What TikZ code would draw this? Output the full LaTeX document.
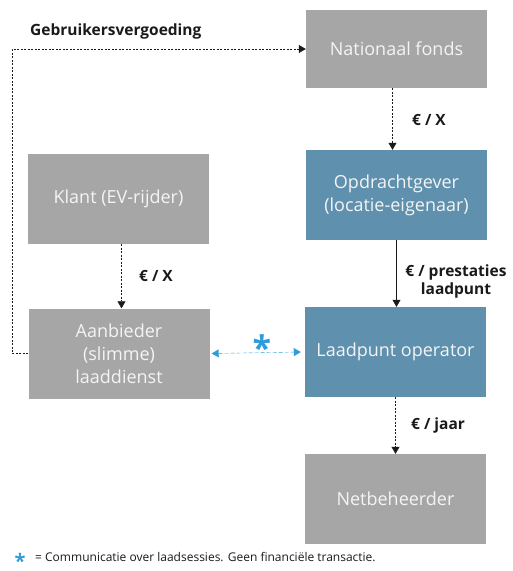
\documentclass[tikz,border=0pt]{standalone}
\usepackage{fontspec}
\setmainfont{Open Sans}
\usepackage{tikz}
\usetikzlibrary{calc,arrows.meta,positioning}
\definecolor{boxGray}{HTML}{A6A6A6}
\definecolor{boxBlue}{HTML}{5F91AE}
\definecolor{boxText}{HTML}{F4F4F4}
\definecolor{comBlue}{HTML}{2D9CDB}
\definecolor{labelText}{HTML}{1A1A1A}
\tikzset{
myGrayBox/.style={
	rectangle,fill=boxGray,draw=none,
	inner sep=0pt,minimum width=181pt,minimum height=90pt,
	text=boxText,align=center,font=\fontsize{18}{23}\selectfont
}
, myBlueBox/.style={
	myGrayBox,fill=boxBlue
}
% links
, myMoney/.style={-{Triangle[width=8pt,length=7pt]},color=labelText,line width=0.5pt,
	dash pattern=on 2pt off 1.5pt}
, myMoneySolid/.style={-{Triangle[width=8pt,length=7pt]},color=labelText,thin}
, myCom/.style={{Triangle[width=8pt,length=7pt]}-{Triangle[width=8pt,length=7pt]},
	color=comBlue,thin,dash pattern=on 4pt off 2pt}
, myLabel/.style={text=labelText,font=\fontsize{15.5}{18}\selectfont\bfseries,inner sep=0pt}
}

\begin{document}
\begin{tikzpicture}[x=1pt,y=1pt]
	\useasboundingbox (0,0) rectangle (513,-571);
	% nodes
	\node[myGrayBox,minimum height=78pt] (Fonds) at (396.5,-49) {Nationaal fonds};
	\node[myBlueBox] (Opdrachtgever) at (396.5,-195) {Opdrachtgever\\(locatie-eigenaar)};
	\node[myGrayBox] (Klant) at (118.5,-199) {Klant (EV-rijder)};
	\node[myGrayBox] (Aanbieder) at (119,-353.5) {Aanbieder\\(slimme)\\laaddienst};
	\node[myBlueBox] (Operator) at (395.5,-352) {Laadpunt operator};
	\node[myGrayBox] (Netbeheerder) at (395.5,-499) {Netbeheerder};

	% links
	\draw [myMoney] (Aanbieder.west) -- ++(-16,0) |- (Fonds.west);
	\draw [myMoney] ([xshift=-4pt]Fonds.south) -- ([xshift=-4pt]Fonds.south |- Opdrachtgever.north);
	\draw [myMoneySolid] (Opdrachtgever.south) -- (Opdrachtgever.south |- Operator.north);
	\draw [myMoney] ([xshift=3pt]Klant.south) -- ([xshift=3pt]Klant.south |- Aanbieder.north);
	\draw [myMoney] (Operator.south) -- (Netbeheerder.north);
	\draw [myCom] ([xshift=2pt]Aanbieder.east) -- ([xshift=-4pt]Operator.west);

	% labels
	\node[myLabel,anchor=west] (LblGebruik) at (30,-31) {Gebruikersvergoeding};
	\node[myLabel,anchor=west] (LblFonds) at (412,-120) {€ / X};
	\node[myLabel,anchor=west] (LblKlant) at (139,-276) {€ / X};
	\node[myLabel,align=center] (LblPrestaties) at (456,-281) {€ / prestaties\\laadpunt};
	\node[myLabel,anchor=west] (LblJaar) at (411,-425) {€ / jaar};
	\node[text=comBlue,font=\fontsize{34}{34}\selectfont\bfseries,inner sep=0pt] (Star) at (262,-348) {*};

	% footnote
	\node[text=comBlue,font=\fontsize{20}{20}\selectfont\bfseries,inner sep=0pt] (NoteStar) at (20,-561) {*};
	\node[anchor=west,text=labelText,font=\fontsize{12}{14}\selectfont,inner sep=0pt] (Note) at (35,-557)
		{= Communicatie over laadsessies. Geen financiële transactie.};
\end{tikzpicture}
\end{document}
